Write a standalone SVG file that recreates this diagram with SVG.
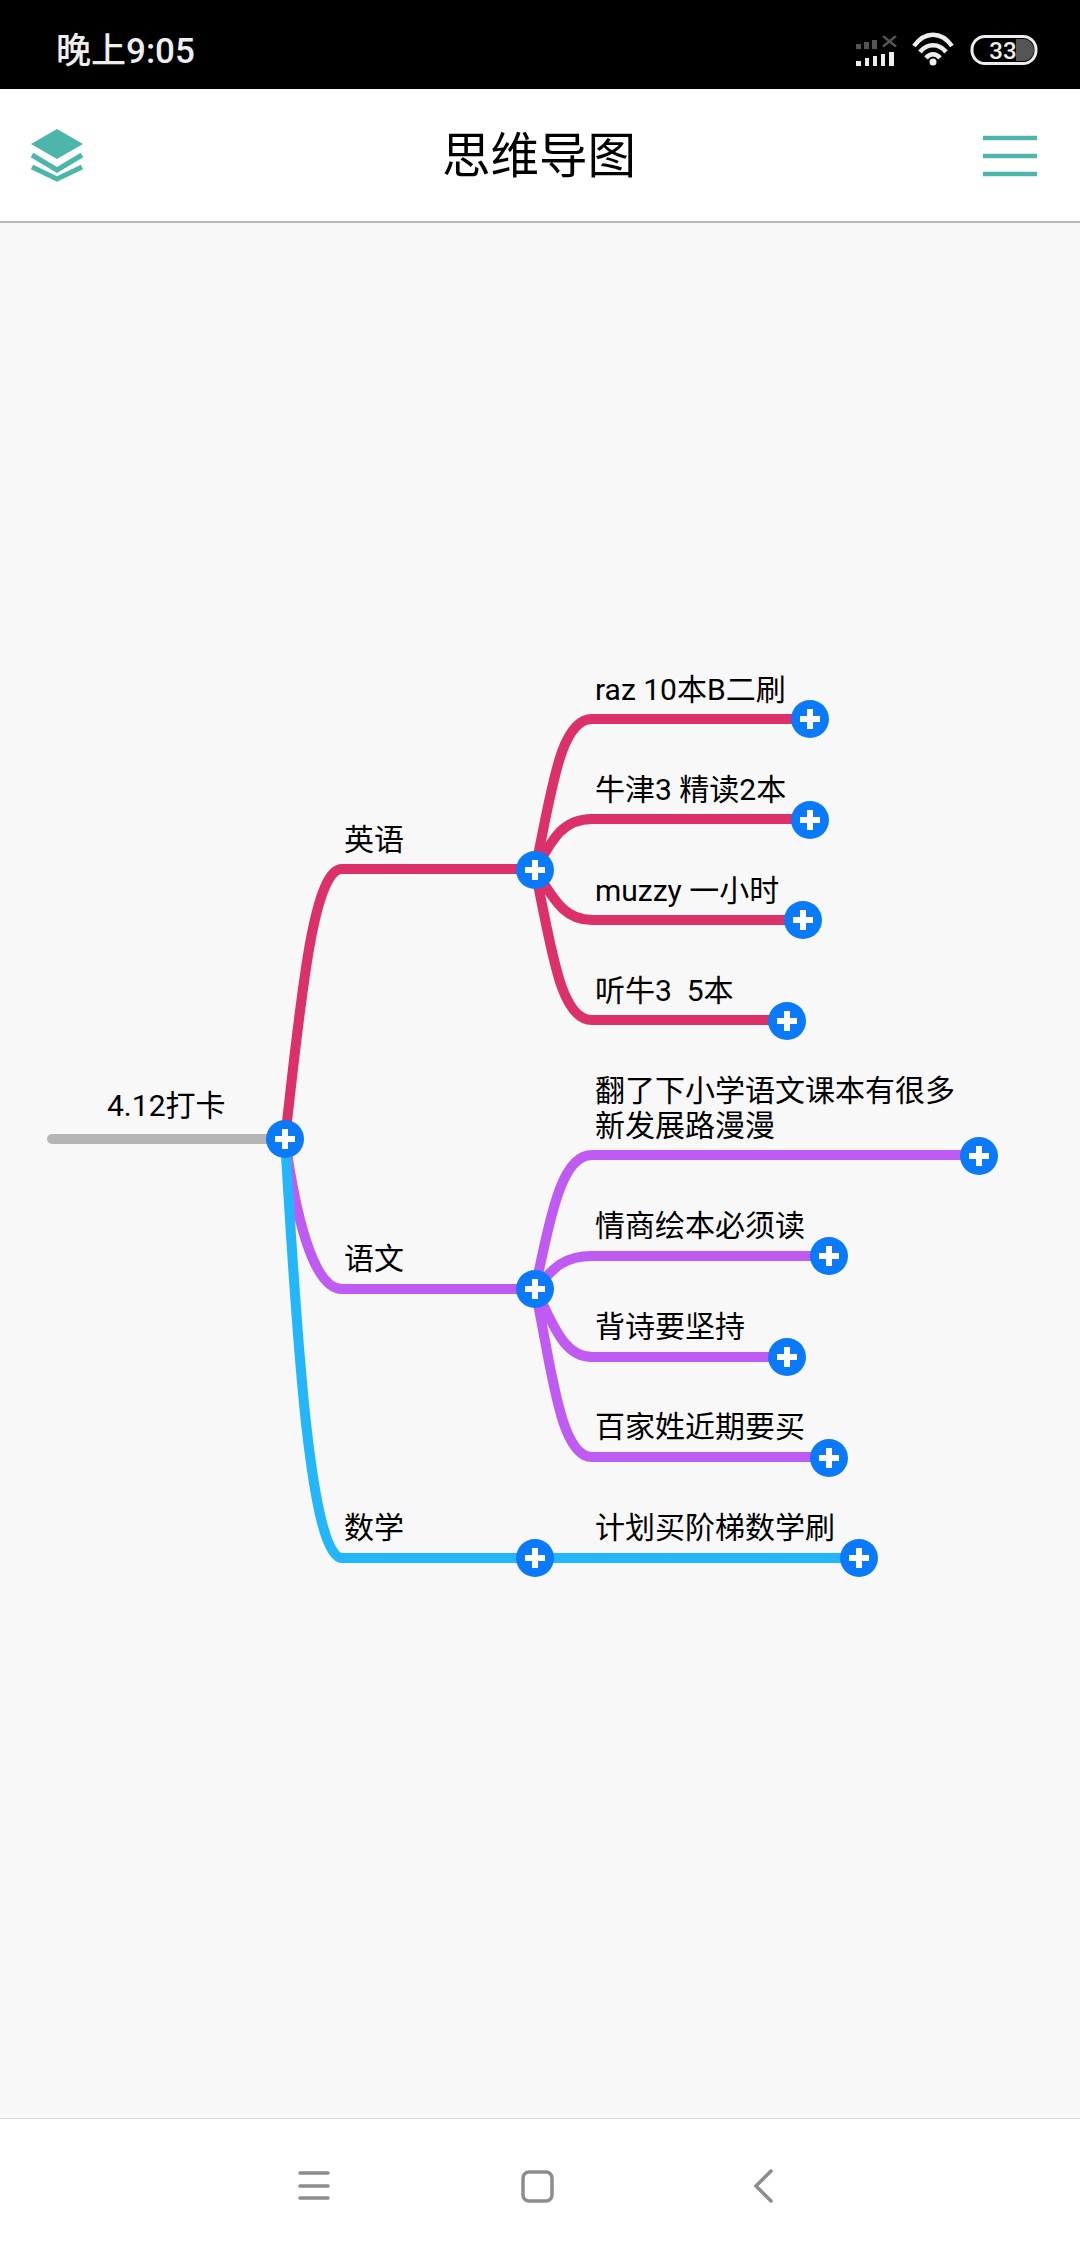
<svg xmlns="http://www.w3.org/2000/svg" width="1080" height="2248" viewBox="0 0 1080 2248">
<style>
.t{font-family:Roboto,"Noto Sans CJK SC",sans-serif;font-size:30px;fill:#000;white-space:pre}
.e{fill:none;stroke-width:10;stroke-linecap:round}
.p{stroke:#dc3068}.v{stroke:#bf5af2}.b{stroke:#24b6fa}
.tl{fill:#4db6ac}
.tls{fill:none;stroke:#4db6ac}
.nav{fill:none;stroke:#8c8c8c;stroke-linecap:round}
</style>
<defs>
<g id="plus"><circle r="19" fill="#0a7afa"/><path d="M-10 0H10M0-10V10" stroke="#fff" stroke-width="6" fill="none"/></g>
</defs>
<rect width="1080" height="2248" fill="#f8f8f8"/>
<g id="statusbar">
<rect width="1080" height="89" fill="#000"/>
<text x="56" y="63" font-family="Roboto,'Noto Sans CJK SC',sans-serif" font-size="35" font-weight="500" fill="#eee">晚上9:05</text>
<g fill="#555"><rect x="856" y="44" width="5" height="5"/><rect x="864" y="42" width="5" height="7"/><rect x="872" y="40" width="5" height="9"/></g>
<path d="M883 39l13 11M896 39l-13 11" stroke="#555" stroke-width="2.5" transform="translate(0 -1) scale(1 .95)"/>
<g fill="#eee"><rect x="856" y="61" width="5" height="5"/><rect x="865" y="58" width="4" height="8"/><rect x="873" y="56" width="4" height="10"/><rect x="881" y="54" width="4" height="12"/><rect x="889" y="52" width="5" height="14"/></g>
<path d="M914 46C925 31 941 31 952 46M920 52C927 43 939 43 946 52M926 58C930 53 936 53 940 58" fill="none" stroke="#eee" stroke-width="4.5"/>
<circle cx="933" cy="62" r="3.5" fill="#eee"/>
<rect x="972" y="36.500" width="64" height="27" rx="13" fill="none" stroke="#eee" stroke-width="3"/>
<path d="M1016 39h7a11 11 0 0 1 0 22h-7z" fill="#555"/>
<text x="1003" y="59" text-anchor="middle" font-family="Roboto,sans-serif" font-size="24" font-weight="500" fill="#eee">33</text>
</g>
<g id="header">
<rect y="89" width="1080" height="132" fill="#fff"/>
<rect y="221" width="1080" height="2" fill="#bbb"/>
<path class="tl" d="M57 129L83 144L57 159L31 144Z"/>
<path class="tls" stroke-width="5" d="M32 155L57 170L82 155M32 167L57 179L82 167"/>
<text x="539" y="173" text-anchor="middle" font-family="Roboto,'Noto Sans CJK SC',sans-serif" font-size="48.500" fill="#000">思维导图</text>
<path class="tls" stroke-width="4.500" d="M983 138H1037M983 156H1037M983 174H1037"/>
</g>
<g id="connectors">
<path class="e" stroke="#b5b5b5" d="M52 1139H285"/>
<path class="e p" d="M285 1139C300 1010 312 869 342 869H535"/>
<path class="e v" d="M285 1139C295 1210 312 1289 342 1289H535"/>
<path class="e b" d="M285 1139C295 1300 308 1558 342 1558H535"/>
<path class="e p" d="M535 870C552 790 560 719 592 719H810"/>
<path class="e p" d="M535 870C552 840 562 819 592 819H810"/>
<path class="e p" d="M535 870C552 895 562 920 592 920H803"/>
<path class="e p" d="M535 870C552 950 560 1020 592 1020H787"/>
<path class="e v" d="M535 1289C552 1210 562 1155 592 1155H979"/>
<path class="e v" d="M535 1289C552 1270 562 1256 592 1256H829"/>
<path class="e v" d="M535 1289C552 1320 562 1357 592 1357H787"/>
<path class="e v" d="M535 1289C552 1370 560 1457 592 1457H829"/>
<path class="e b" d="M535 1558H859"/>
</g>
<g id="root"><text class="t" x="107" y="1116">4.12打卡</text><use href="#plus" x="285" y="1139"/></g>
<g id="n-en"><text class="t" x="344" y="850">英语</text><use href="#plus" x="535" y="870"/></g>
<g id="n-en1"><text class="t" x="595" y="700">raz 10本B二刷</text><use href="#plus" x="810" y="719"/></g>
<g id="n-en2"><text class="t" x="595" y="800">牛津3 精读2本</text><use href="#plus" x="810" y="820"/></g>
<g id="n-en3"><text class="t" x="595" y="901">muzzy 一小时</text><use href="#plus" x="803" y="920"/></g>
<g id="n-en4"><text class="t" x="595" y="1001">听牛3  5本</text><use href="#plus" x="787" y="1021"/></g>
<g id="n-cn"><text class="t" x="344" y="1269">语文</text><use href="#plus" x="535" y="1289"/></g>
<g id="n-cn1"><text class="t" x="595" y="1101">翻了下小学语文课本有很多</text><text class="t" x="595" y="1136">新发展路漫漫</text><use href="#plus" x="979" y="1156"/></g>
<g id="n-cn2"><text class="t" x="595" y="1236">情商绘本必须读</text><use href="#plus" x="829" y="1256"/></g>
<g id="n-cn3"><text class="t" x="595" y="1337">背诗要坚持</text><use href="#plus" x="787" y="1357"/></g>
<g id="n-cn4"><text class="t" x="595" y="1437">百家姓近期要买</text><use href="#plus" x="829" y="1458"/></g>
<g id="n-ma"><text class="t" x="344" y="1538">数学</text><use href="#plus" x="535" y="1558"/></g>
<g id="n-ma1"><text class="t" x="595" y="1538">计划买阶梯数学刷</text><use href="#plus" x="859" y="1558"/></g>
<g id="navbar">
<rect y="2118" width="1080" height="130" fill="#fff"/>
<rect y="2118" width="1080" height="1" fill="#ddd"/>
<path class="nav" stroke-width="3.500" d="M300 2173H328M300 2186H328M300 2198H328"/>
<rect class="nav" x="523" y="2172" width="29" height="29" rx="6" stroke-width="3.500"/>
<path class="nav" stroke-width="3.500" d="M771 2171L756 2186L771 2201"/>
</g>
</svg>
